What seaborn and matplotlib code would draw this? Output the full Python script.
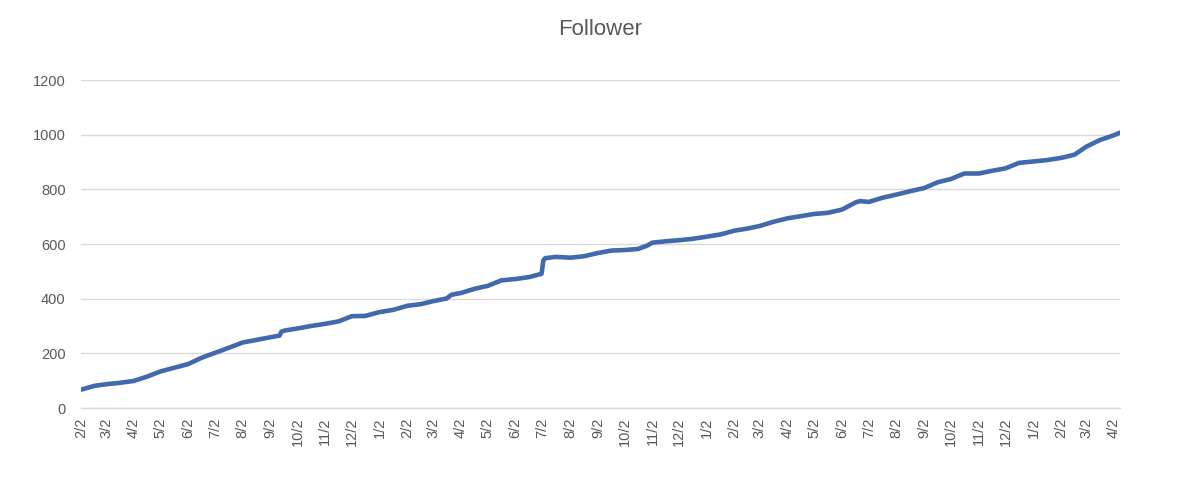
import pandas as pd
import matplotlib.pyplot as plt
import matplotlib.dates as mdates
import seaborn as sns

# %% data (follower count on given dates)
dates = [
    "2019-02-02", "2019-02-17", "2019-03-02", "2019-03-17", "2019-04-02", "2019-04-17",
    "2019-05-02", "2019-05-17", "2019-06-02", "2019-06-17", "2019-07-02", "2019-07-17",
    "2019-08-02", "2019-08-17", "2019-09-02", "2019-09-12", "2019-09-14", "2019-09-17",
    "2019-10-02", "2019-10-17", "2019-11-02", "2019-11-17", "2019-12-02", "2019-12-17",
    "2020-01-02", "2020-01-17", "2020-02-02", "2020-02-17", "2020-03-02", "2020-03-17",
    "2020-03-22", "2020-04-02", "2020-04-17", "2020-05-02", "2020-05-17", "2020-06-02",
    "2020-06-17", "2020-07-01", "2020-07-03", "2020-07-05", "2020-07-17", "2020-08-02",
    "2020-08-17", "2020-09-02", "2020-09-17", "2020-10-02", "2020-10-17", "2020-10-27",
    "2020-11-02", "2020-11-17", "2020-12-02", "2020-12-17", "2021-01-02", "2021-01-17",
    "2021-02-02", "2021-02-17", "2021-03-02", "2021-03-17", "2021-04-02", "2021-04-17",
    "2021-05-02", "2021-05-17", "2021-06-02", "2021-06-17", "2021-06-22", "2021-07-02",
    "2021-07-17", "2021-08-02", "2021-08-17", "2021-09-02", "2021-09-17", "2021-10-02",
    "2021-10-09", "2021-10-17", "2021-11-02", "2021-11-17", "2021-12-02", "2021-12-17",
    "2022-01-02", "2022-01-17", "2022-02-02", "2022-02-17", "2022-03-02", "2022-03-17",
    "2022-04-02", "2022-04-09",
]
followers = [
    67, 81, 87, 92, 99, 115,
    134, 147, 161, 184, 202, 220,
    240, 249, 259, 265, 279, 283,
    291, 300, 308, 317, 336, 337,
    351, 359, 374, 380, 391, 401,
    414, 421, 436, 447, 467, 472,
    479, 491, 540, 548, 553, 550,
    555, 567, 576, 578, 582, 594,
    605, 610, 614, 619, 627, 635,
    649, 657, 666, 681, 694, 702,
    710, 714, 726, 752, 757, 754,
    769, 781, 793, 805, 826, 838,
    848, 858, 858, 868, 877, 897,
    902, 907, 915, 927, 956, 980,
    998, 1008,
]
y_ticks = [0, 200, 400, 600, 800, 1000, 1200]

df = pd.DataFrame({"date": pd.to_datetime(dates), "followers": followers})

# %% plot
sns.set_style("white")
plt.rcParams["font.family"] = ["Liberation Sans", "DejaVu Sans"]

grey = "#595959"
grid = "#D9D9D9"

fig = plt.figure(figsize=(12, 4.93), dpi=100)
ax = fig.add_axes([0.0675, 0.1724, 0.866, 0.6653])

sns.lineplot(data=df, x="date", y="followers", ax=ax, color="#4169AE",
             linewidth=3.3, solid_joinstyle="round", solid_capstyle="round")

ax.set_ylim(0, 1200)
ax.set_yticks(y_ticks)
ax.set_xlim(df["date"].iloc[0], df["date"].iloc[-1])
ax.yaxis.grid(True, color=grid, linewidth=1)
ax.set_axisbelow(True)

ax.xaxis.set_major_locator(mdates.MonthLocator(bymonthday=2))
ax.xaxis.set_major_formatter(mdates.DateFormatter("%-m/%-d"))

for side in ["top", "right", "left"]:
    ax.spines[side].set_visible(False)
ax.spines["bottom"].set_color(grid)
ax.spines["bottom"].set_linewidth(1)

ax.tick_params(axis="x", colors=grey, labelsize=10.5, rotation=90,
               length=4, width=1, pad=3, color=grid)
ax.tick_params(axis="y", colors=grey, labelsize=10.5, length=0, pad=11)
ax.set_xlabel("")
ax.set_ylabel("")

fig.text(0.5, 0.941, "Follower", ha="center", va="center", fontsize=16, color=grey)

fig.savefig("out.png", dpi=100)
